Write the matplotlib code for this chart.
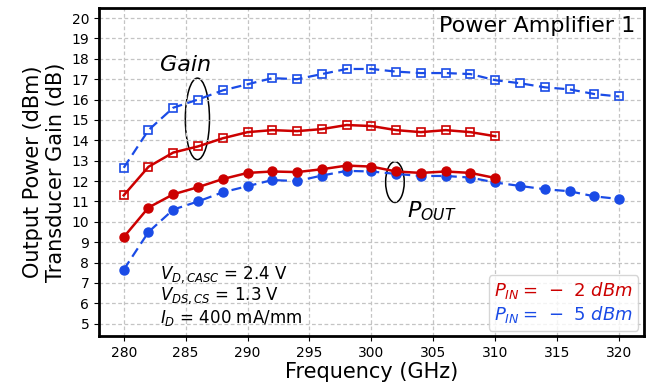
import numpy as np
import matplotlib
matplotlib.use("Agg")
import matplotlib.pyplot as plt
from matplotlib.patches import Ellipse
from matplotlib.lines import Line2D

# Frequency points (GHz)
freq_m2 = [280, 282, 284, 286, 288, 290, 292, 294, 296, 298, 300, 302, 304, 306, 308, 310]
freq_m5 = [280, 282, 284, 286, 288, 290, 292, 294, 296, 298, 300, 302, 304, 306, 308, 310,
           312, 314, 316, 318, 320]

# Transducer gain (dB)
gain_m2 = [11.3, 12.7, 13.4, 13.7, 14.1, 14.4, 14.5, 14.45, 14.55, 14.75, 14.7,
           14.5, 14.4, 14.5, 14.4, 14.2]
gain_m5 = [12.65, 14.5, 15.6, 16.0, 16.45, 16.75, 17.05, 17.0, 17.25, 17.5, 17.5,
           17.37, 17.3, 17.3, 17.25, 16.95, 16.8, 16.6, 16.5, 16.27, 16.15]

# Output power (dBm)
pout_m2 = [9.25, 10.7, 11.35, 11.7, 12.1, 12.4, 12.47, 12.44, 12.58, 12.76, 12.71,
           12.47, 12.4, 12.47, 12.4, 12.15]
pout_m5 = [7.65, 9.5, 10.6, 11.0, 11.45, 11.75, 12.05, 12.0, 12.27, 12.5, 12.47,
           12.35, 12.25, 12.25, 12.17, 11.93, 11.76, 11.6, 11.5, 11.25, 11.12]

red = '#cc0000'
blue = '#1a4be6'

fig = plt.figure(figsize=(6.51, 3.92), dpi=100)
ax = fig.add_axes([0.152, 0.143, 0.837, 0.837])

ax.plot(freq_m5, gain_m5, color=blue, lw=1.6, ls=(0, (4.5, 2.5)), marker='s', ms=6,
        mfc='none', mec=blue, mew=1.2)
ax.plot(freq_m2, gain_m2, '-', color=red, lw=1.8, marker='s', ms=6,
        mfc='none', mec=red, mew=1.2)
ax.plot(freq_m5, pout_m5, color=blue, lw=1.6, ls=(0, (4.5, 2.5)), marker='o', ms=6.5)
ax.plot(freq_m2, pout_m2, '-', color=red, lw=1.8, marker='o', ms=6.5)

# ellipses marking the curve groups
ax.add_patch(Ellipse((285.95, 15.05), 1.95, 4.0, fill=False, ec='black', lw=1.1))
ax.add_patch(Ellipse((301.9, 11.95), 1.5, 2.0, fill=False, ec='black', lw=1.1))
ax.text(282.9, 17.42, 'Gain', fontsize=16, style='italic', va='baseline')
ax.text(302.9, 10.2, '$P_{OUT}$', fontsize=16, va='baseline')

ax.text(0.985, 0.975, 'Power Amplifier 1', transform=ax.transAxes,
        ha='right', va='top', fontsize=16)

ax.text(282.9, 7.2, '$V_{D,CASC}$ = 2.4 V', fontsize=12, va='baseline')
ax.text(282.9, 6.15, '$V_{DS,CS}$ = 1.3 V', fontsize=12, va='baseline')
ax.text(282.9, 5.05, '$I_{D}$ = 400 mA/mm', fontsize=12, va='baseline')

handles = [Line2D([], [], linestyle='none'), Line2D([], [], linestyle='none')]
leg = ax.legend(handles, [r'$P_{IN} =\;-\ 2\ dBm$', r'$P_{IN} =\;-\ 5\ dBm$'],
                loc='lower right', fontsize=13, handlelength=0, handletextpad=0,
                borderpad=0.3, labelspacing=0.15, borderaxespad=0.3)
for txt, c in zip(leg.get_texts(), [red, blue]):
    txt.set_color(c)

ax.set_xlim(278, 322)
ax.set_ylim(4.4, 20.5)
ax.set_xticks(np.arange(280, 321, 5))
ax.set_yticks(np.arange(5, 21, 1))
ax.tick_params(labelsize=10)
ax.grid(True, ls=(0, (3, 2)), color='#c4c4c4', lw=0.9)
for s in ax.spines.values():
    s.set_linewidth(2)

ax.set_xlabel('Frequency (GHz)', fontsize=15, labelpad=2)
ax.set_ylabel('Output Power (dBm)\nTransducer Gain (dB)', fontsize=15, labelpad=4)

plt.savefig('out.png', dpi=100)
